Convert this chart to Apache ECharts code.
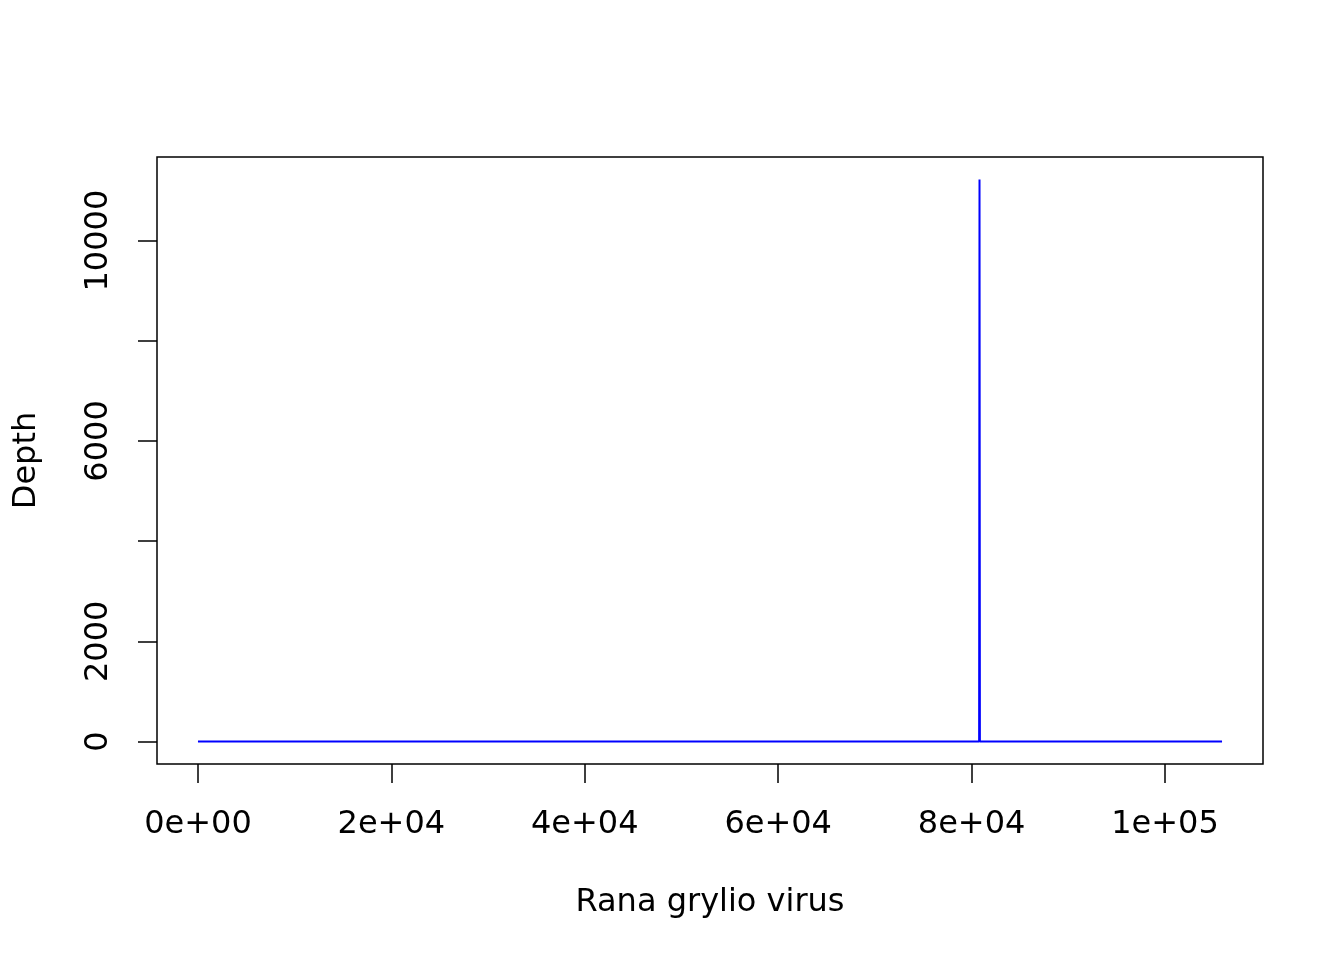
<!DOCTYPE html>
<html>
<head>
<meta charset="utf-8">
<script src="https://cdn.jsdelivr.net/npm/echarts@6/dist/echarts.min.js"></script>
<style>
html,body{margin:0;padding:0;background:#fff;}
#chart{width:1344px;height:960px;}
</style>
</head>
<body>
<div id="chart"></div>
<script>
// Data
var positions = [0, 80780, 80820, 80860, 105900];
var depths    = [0, 0, 11220, 0, 0];
var xTicks = [0, 20000, 40000, 60000, 80000, 100000];
var xTickLabels = ['0e+00', '2e+04', '4e+04', '6e+04', '8e+04', '1e+05'];
var yTicks = [0, 2000, 4000, 6000, 8000, 10000];
var yLabelValues = [0, 2000, 6000, 10000];
var xTitle = 'Rana grylio virus';
var yTitle = 'Depth';

var seriesData = positions.map(function (p, i) { return [p, depths[i]]; });

// R-style 4% axis extension
var xMinD = Math.min.apply(null, positions), xMaxD = Math.max.apply(null, positions);
var yMinD = Math.min.apply(null, depths), yMaxD = Math.max.apply(null, depths);
var xPad = (xMaxD - xMinD) * 0.04, yPad = (yMaxD - yMinD) * 0.04;

var font = 'DejaVu Sans';
var fs = 32;

var chart = echarts.init(document.getElementById('chart'));
chart.setOption({
  animation: false,
  backgroundColor: '#fff',
  grid: {
    left: 157, right: 81, top: 157, bottom: 196,
    show: true, borderColor: '#000', borderWidth: 1.5, backgroundColor: 'transparent'
  },
  xAxis: {
    type: 'value',
    min: xMinD - xPad, max: xMaxD + xPad,
    name: xTitle, nameLocation: 'middle', nameGap: 123,
    nameTextStyle: { fontFamily: font, fontSize: fs, color: '#000' },
    axisLine: { show: false, onZero: false },
    splitLine: { show: false },
    axisTick: { show: true, customValues: xTicks, length: 19, lineStyle: { color: '#000', width: 1.5 } },
    axisLabel: {
      customValues: xTicks, margin: 45, fontFamily: font, fontSize: fs, color: '#000',
      formatter: function (v) { var i = xTicks.indexOf(v); return i >= 0 ? xTickLabels[i] : ''; }
    }
  },
  yAxis: {
    type: 'value',
    min: yMinD - yPad, max: yMaxD + yPad,
    name: yTitle, nameLocation: 'middle', nameGap: 114, nameRotate: 90,
    nameTextStyle: { fontFamily: font, fontSize: fs, color: '#000' },
    axisLine: { show: false, onZero: false },
    splitLine: { show: false },
    axisTick: { show: true, customValues: yTicks, length: 19, lineStyle: { color: '#000', width: 1.5 } },
    axisLabel: {
      customValues: yLabelValues, rotate: 90, margin: 42, fontFamily: font, fontSize: fs, color: '#000',
      formatter: function (v) { return String(v); }
    }
  },
  series: [{
    type: 'line',
    data: seriesData,
    showSymbol: false,
    symbol: 'none',
    lineStyle: { color: '#0000ff', width: 2 },
    clip: true
  }]
});
</script>
</body>
</html>
